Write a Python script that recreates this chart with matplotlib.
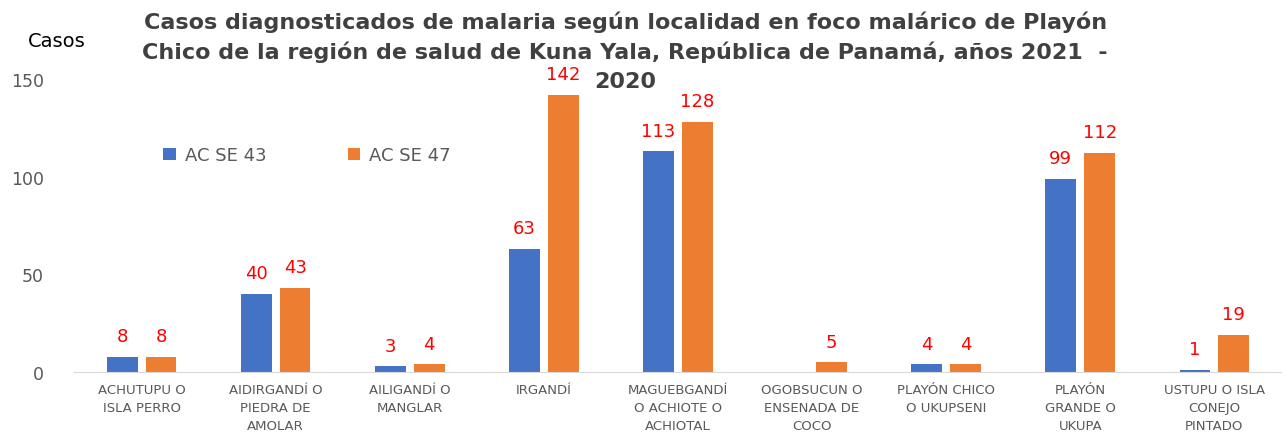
import numpy as np
import matplotlib
matplotlib.use("Agg")
import matplotlib.pyplot as plt

plt.rcParams['font.family'] = ['DejaVu Sans']

localidades = ["ACHUTUPU O\nISLA PERRO", "AIDIRGANDÍ O\nPIEDRA DE\nAMOLAR",
               "AILIGANDÍ O\nMANGLAR", "IRGANDÍ", "MAGUEBGANDÍ\nO ACHIOTE O\nACHIOTAL",
               "OGOBSUCUN O\nENSENADA DE\nCOCO", "PLAYÓN CHICO\nO UKUPSENI",
               "PLAYÓN\nGRANDE O\nUKUPA", "USTUPU O ISLA\nCONEJO\nPINTADO"]
se43 = [8, 40, 3, 63, 113, np.nan, 4, 99, 1]
se47 = [8, 43, 4, 142, 128, 5, 4, 112, 19]
yticks = [0, 50, 100, 150]
titulo = ["Casos diagnosticados de malaria según localidad en foco malárico de Playón",
          "Chico de la región de salud de Kuna Yala, República de Panamá, años 2021  -",
          "2020"]

fig = plt.figure(figsize=(12.84, 4.39), dpi=100)
ax = fig.add_axes([0.058, 0.150, 0.940, 0.668])

x = np.arange(len(localidades))
w = 0.23
b1 = ax.bar(x - 0.145, se43, w, color='#4472C4', label='AC SE 43')
b2 = ax.bar(x + 0.145, se47, w, color='#ED7D31', label='AC SE 47')

for bars, vals in ((b1, se43), (b2, se47)):
    for r, v in zip(bars, vals):
        if np.isnan(v):
            continue
        ax.text(r.get_x() + r.get_width() / 2, v + 6, f"{v:.0f}", ha='center', va='bottom',
                color='#FF0000', fontsize=13)

ax.set_xlim(-0.5, len(localidades) - 0.5)
ax.set_ylim(0, 150)
ax.set_yticks(yticks)
ax.set_xticks(x)
ax.set_xticklabels(localidades, fontsize=9.5, color='#595959', linespacing=1.5)
ax.tick_params(axis='y', labelsize=12.5, labelcolor='#595959', length=0, pad=22)
ax.tick_params(axis='x', length=0, pad=8)
for s in ['top', 'right', 'left']:
    ax.spines[s].set_visible(False)
ax.spines['bottom'].set_color('#D9D9D9')

ax.legend(loc='upper left', bbox_to_anchor=(0.06, 0.825), ncol=2, frameon=False,
          fontsize=13, labelcolor='#595959', handlelength=0.7, handleheight=0.7,
          columnspacing=4.5, handletextpad=0.5)

fig.text(0.022, 0.905, "Casos", fontsize=14, color='#000000', va='center')
for i, linea in enumerate(titulo):
    fig.text(0.487, 0.95 - i * 0.068, linea, ha='center', va='center',
             fontsize=16, fontweight='bold', color='#404040')

fig.savefig("out.png", dpi=100)
